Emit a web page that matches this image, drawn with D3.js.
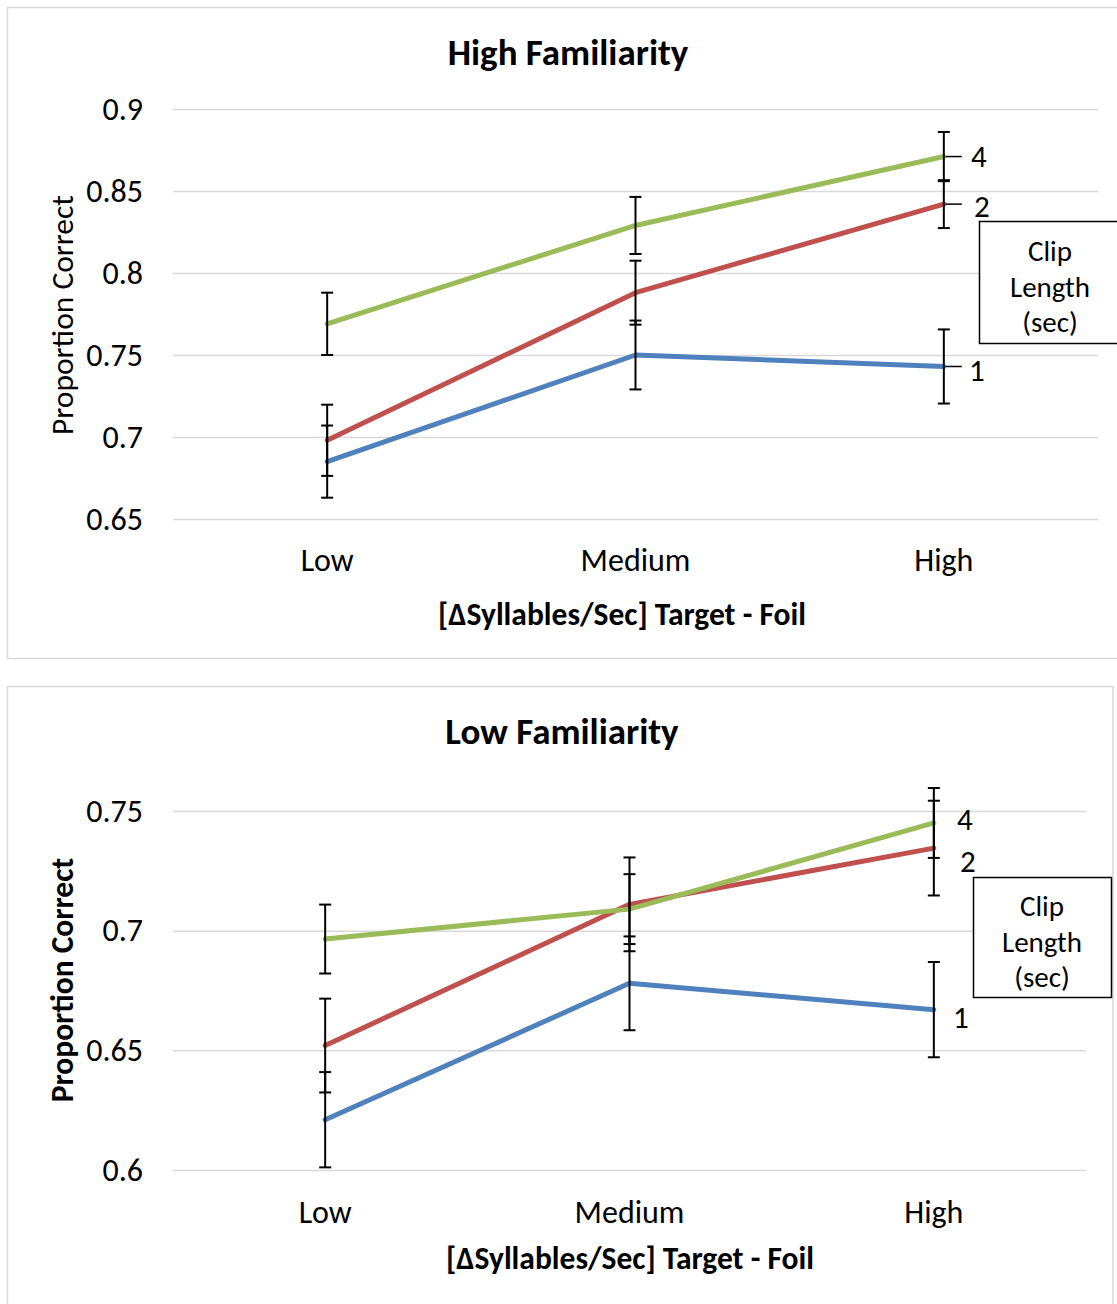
<!DOCTYPE html>
<html>
<head>
<meta charset="utf-8">
<script src="https://cdn.jsdelivr.net/npm/d3@7"></script>
<style>
  html, body { margin: 0; padding: 0; background: #ffffff; }
  svg { display: block; }
  text { font-family: Carlito, Calibri, "Open Sans", sans-serif; fill: #000; }
</style>
</head>
<body>
<svg id="chart" width="1117" height="1304"></svg>
<script>
// ---------- data ----------
const categories = ["Low", "Medium", "High"];
const seriesNames = ["1", "2", "4"];
const seriesColors = ["#4f81bd", "#c0504d", "#9bbb59"];

// High Familiarity
const highFam_1 = [0.685, 0.750, 0.743];
const highFam_2 = [0.698, 0.788, 0.842];
const highFam_4 = [0.769, 0.829, 0.871];
const highFamErr_1 = [0.022, 0.021, 0.0226];
const highFamErr_2 = [0.0217, 0.0195, 0.0146];
const highFamErr_4 = [0.019, 0.0174, 0.015];
const highFamTicks = [0.65, 0.7, 0.75, 0.8, 0.85, 0.9];

// Low Familiarity
const lowFam_1 = [0.621, 0.678, 0.667];
const lowFam_2 = [0.652, 0.711, 0.7345];
const lowFam_4 = [0.6965, 0.709, 0.745];
const lowFamErr_1 = [0.0199, 0.0196, 0.0199];
const lowFamErr_2 = [0.0196, 0.0196, 0.0198];
const lowFamErr_4 = [0.0144, 0.0146, 0.0146];
const lowFamTicks = [0.6, 0.65, 0.7, 0.75];

const legendLines = ["Clip", "Length", "(sec)"];
const xTitle = "[ΔSyllables/Sec] Target - Foil";

// ---------- drawing ----------
const svg = d3.select("#chart");
const FONT = 'Carlito, Calibri, "Open Sans", sans-serif';

function drawChart(cfg) {
  const g = svg.append("g");
  // frame
  g.append("rect")
    .attr("x", cfg.frame[0]).attr("y", cfg.frame[1])
    .attr("width", cfg.frame[2]).attr("height", cfg.frame[3])
    .attr("fill", "#fff").attr("stroke", "#d9d9d9").attr("stroke-width", 1.5);

  const x = d3.scaleBand().domain(categories).range([cfg.left, cfg.right]);
  const y = d3.scaleLinear().domain([cfg.ticks[0], cfg.ticks[cfg.ticks.length - 1]])
    .range([cfg.bottom, cfg.top]);
  const cx = c => x(c) + x.bandwidth() / 2;

  // gridlines + tick labels
  const yAxis = d3.axisLeft(y).tickValues(cfg.ticks)
    .tickSize(-(cfg.right - cfg.left)).tickPadding(30)
    .tickFormat(d => String(+d.toFixed(2)));
  const ya = g.append("g").attr("transform", `translate(${cfg.left},0)`).call(yAxis);
  ya.select(".domain").remove();
  ya.selectAll(".tick line").attr("stroke", "#d9d9d9").attr("stroke-width", 1.5);
  ya.selectAll(".tick text").attr("font-size", 32).attr("fill", "#000")
    .style("font-family", FONT);

  // x axis labels
  const xAxis = d3.axisBottom(x).tickSize(0).tickPadding(0);
  const xa = g.append("g").attr("transform", `translate(0,${cfg.xLabelY})`).call(xAxis);
  xa.select(".domain").remove();
  xa.selectAll(".tick text").attr("font-size", 32).attr("fill", "#000")
    .attr("dy", "0.35em")
    .style("font-family", FONT);

  // title
  g.append("text").attr("x", cfg.titleX).attr("y", cfg.titleY)
    .attr("text-anchor", "middle").attr("dominant-baseline", "central")
    .attr("font-size", 37).attr("font-weight", "bold").text(cfg.title);

  // x title
  g.append("text").attr("x", cfg.xTitleX).attr("y", cfg.xTitleY)
    .attr("text-anchor", "middle").attr("dominant-baseline", "central")
    .attr("font-size", 31.5).attr("font-weight", "bold").text(xTitle);

  // y title
  g.append("text")
    .attr("transform", `translate(${cfg.yTitleX},${cfg.yTitleY}) rotate(-90)`)
    .attr("text-anchor", "middle").attr("dominant-baseline", "central")
    .attr("font-size", 31.5).attr("font-weight", cfg.yTitleBold ? "bold" : "normal")
    .text("Proportion Correct");

  const line = d3.line().x((d, i) => cx(categories[i])).y(d => y(d));

  // lines
  cfg.series.forEach((s, k) => {
    g.append("path").datum(s.values).attr("d", line)
      .attr("fill", "none").attr("stroke", seriesColors[k]).attr("stroke-width", 5)
      .attr("stroke-linejoin", "round").attr("stroke-linecap", "round");
  });

  // error bars
  cfg.series.forEach((s, k) => {
    s.values.forEach((v, i) => {
      const xx = cx(categories[i]);
      const y0 = y(v - s.err[i]), y1 = y(v + s.err[i]);
      g.append("line").attr("x1", xx).attr("x2", xx).attr("y1", y0).attr("y2", y1)
        .attr("stroke", "#000").attr("stroke-width", 2);
      [y0, y1].forEach(yy => {
        g.append("line").attr("x1", xx - 6).attr("x2", xx + 6).attr("y1", yy).attr("y2", yy)
          .attr("stroke", "#000").attr("stroke-width", 2);
      });
    });
  });

  // end labels
  cfg.series.forEach((s, k) => {
    const last = s.values.length - 1;
    const xx = cx(categories[last]);
    const yy = y(s.values[last]);
    if (cfg.leaders) {
      g.append("line").attr("x1", xx + 2).attr("x2", xx + 18).attr("y1", yy).attr("y2", yy)
        .attr("stroke", "#000").attr("stroke-width", 1.5);
    }
    g.append("text").attr("x", xx + cfg.labelDx[k]).attr("y", yy + cfg.labelDy[k])
      .attr("text-anchor", "middle").attr("dominant-baseline", "central")
      .attr("font-size", 31).text(seriesNames[k]);
  });

  // legend box
  const L = cfg.legend;
  g.append("rect").attr("x", L[0]).attr("y", L[1]).attr("width", L[2]).attr("height", L[3])
    .attr("fill", "#fff").attr("stroke", "#000").attr("stroke-width", 1.5);
  legendLines.forEach((t, i) => {
    g.append("text").attr("x", L[4]).attr("y", L[5] + i * 35.5)
      .attr("text-anchor", "middle").attr("dominant-baseline", "central")
      .attr("font-size", 29).text(t);
  });
}

drawChart({
  frame: [7.5, 7.5, 1120, 651],
  left: 173, right: 1098, top: 109, bottom: 519,
  ticks: highFamTicks,
  xLabelY: 560,
  title: "High Familiarity", titleX: 568, titleY: 52,
  xTitleX: 622, xTitleY: 614,
  yTitleX: 62, yTitleY: 315, yTitleBold: false,
  series: [
    { values: highFam_1, err: highFamErr_1 },
    { values: highFam_2, err: highFamErr_2 },
    { values: highFam_4, err: highFamErr_4 }
  ],
  leaders: true,
  labelDx: [33, 38, 35], labelDy: [4, 2, -1],
  legend: [979.5, 221.5, 150, 122, 1050, 251]
});

drawChart({
  frame: [7.5, 686.5, 1105.5, 630],
  left: 173, right: 1086, top: 811, bottom: 1170,
  ticks: lowFamTicks,
  xLabelY: 1212,
  title: "Low Familiarity", titleX: 562, titleY: 731,
  xTitleX: 630, xTitleY: 1258,
  yTitleX: 62, yTitleY: 980, yTitleBold: true,
  series: [
    { values: lowFam_1, err: lowFamErr_1 },
    { values: lowFam_2, err: lowFamErr_2 },
    { values: lowFam_4, err: lowFamErr_4 }
  ],
  leaders: false,
  labelDx: [27, 34, 31], labelDy: [7, 13, -4],
  legend: [973.5, 877.5, 138, 120, 1042, 906]
});
</script>
</body>
</html>
